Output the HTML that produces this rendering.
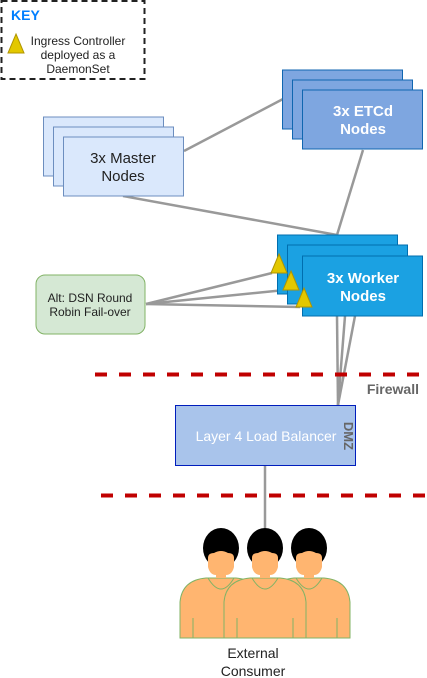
<!DOCTYPE html>
<html><head><meta charset="utf-8"><style>
body{margin:0;background:#fff;}
svg{display:block;font-family:"Liberation Sans",Arial,sans-serif;}
</style></head><body>
<svg width="427" height="678" viewBox="0 0 427 678">
<defs>
<g id="person">
<path d="M180,638 L180,602 Q182,580 206,578 L236,578 Q260,580 262,602 L262,638 Z" fill="#FFB570" stroke="#82b366" stroke-width="1"/>
<path d="M208,578 Q221,600 234,578" fill="none" stroke="#82b366"/>
<line x1="193" y1="618" x2="193" y2="638" stroke="#82b366"/>
<line x1="249" y1="618" x2="249" y2="638" stroke="#82b366"/>
<ellipse cx="221" cy="548" rx="18" ry="20" fill="#000"/>
<path d="M208,558 Q208,553 214,553 Q221,549 228,553 Q234,553 234,558 L234,567 Q232,575 226,575 L226,578 L216,578 L216,575 Q210,575 208,567 Z" fill="#FFB570"/>
</g>
</defs>
<!-- key -->
<rect x="1.5" y="1" width="143" height="78" fill="none" stroke="#222" stroke-width="2" stroke-dasharray="6,4"/>
<text x="11" y="20" font-size="14" font-weight="bold" fill="#007FFF">KEY</text>
<polygon points="16,34 24,53 8,53" fill="#e3c800" stroke="#B09500"/>
<g font-size="12" fill="#222" text-anchor="middle">
<text x="78" y="45">Ingress Controller</text>
<text x="78" y="59">deployed as a</text>
<text x="78" y="73">DaemonSet</text>
</g>
<!-- lines -->
<g stroke="#999" stroke-width="2.5" fill="none">
<line x1="184" y1="151" x2="283" y2="99"/>
<line x1="363" y1="150" x2="337" y2="235"/>
<line x1="123" y1="196" x2="337" y2="235"/>
<line x1="146" y1="304" x2="272" y2="273"/>
<line x1="146" y1="304" x2="285" y2="290"/>
<line x1="146" y1="304" x2="300" y2="307"/>
<line x1="337" y1="316" x2="338" y2="405"/>
<line x1="345" y1="316" x2="338" y2="405"/>
<line x1="355" y1="316" x2="338" y2="405"/>
<line x1="265" y1="465" x2="265" y2="528"/>
</g>
<!-- etcd -->
<g fill="#7EA6E0" stroke="#1066b0" stroke-width="1">
<rect x="282.5" y="70" width="120" height="59"/>
<rect x="292.5" y="80" width="120" height="59"/>
<rect x="302.5" y="90" width="120" height="59"/>
</g>
<g font-size="15" font-weight="bold" fill="#fff" text-anchor="middle">
<text x="363" y="116">3x ETCd</text><text x="363" y="134">Nodes</text>
</g>
<!-- master -->
<g fill="#dae8fc" stroke="#6c8ebf" stroke-width="1">
<rect x="43.5" y="117" width="120" height="59"/>
<rect x="53.5" y="127" width="120" height="59"/>
<rect x="63.5" y="137" width="120" height="59"/>
</g>
<g font-size="15" fill="#222" text-anchor="middle">
<text x="123" y="163">3x Master</text><text x="123" y="181">Nodes</text>
</g>
<!-- worker -->
<g fill="#1BA1E2" stroke="#006EAF" stroke-width="1">
<rect x="277.5" y="235" width="120" height="59"/>
<rect x="287.5" y="245" width="120" height="59"/>
<rect x="302.5" y="256" width="120" height="60"/>
</g>
<g font-size="15" font-weight="bold" fill="#fff" text-anchor="middle">
<text x="363" y="283">3x Worker</text><text x="363" y="301">Nodes</text>
</g>
<g fill="#e3c800" stroke="#B09500">
<polygon points="279,254 287,273 271,273"/>
<polygon points="291,271 299,290 283,290"/>
<polygon points="304,288 312,307 296,307"/>
</g>
<!-- alt -->
<rect x="36" y="275" width="109" height="59" rx="9" fill="#d5e8d4" stroke="#82b366"/>
<g font-size="12" fill="#222" text-anchor="middle">
<text x="90" y="302">Alt: DSN Round</text><text x="90" y="316">Robin Fail-over</text>
</g>
<!-- firewall -->
<line x1="95" y1="374.5" x2="427" y2="374.5" stroke="#C00000" stroke-width="4" stroke-dasharray="12,12"/>
<line x1="101" y1="495.5" x2="427" y2="495.5" stroke="#C00000" stroke-width="4" stroke-dasharray="12,12"/>
<text x="419" y="394" font-size="14" font-weight="bold" fill="#666" text-anchor="end">Firewall</text>
<!-- LB -->
<rect x="175.5" y="405.5" width="180" height="60" fill="#A9C4EB" stroke="#001DBC" stroke-width="1"/>
<text x="266" y="441" font-size="14" fill="#fff" text-anchor="middle">Layer 4 Load Balancer</text>
<text x="0" y="0" font-size="13" font-weight="bold" fill="#666" text-anchor="middle" transform="translate(344,436) rotate(90)">DMZ</text>
<!-- people -->
<use href="#person"/>
<use href="#person" transform="translate(88,0)"/>
<use href="#person" transform="translate(44,0)"/>
<g font-size="14" fill="#222" text-anchor="middle">
<text x="253" y="658">External</text><text x="253" y="676">Consumer</text>
</g>
</svg>
</body></html>
